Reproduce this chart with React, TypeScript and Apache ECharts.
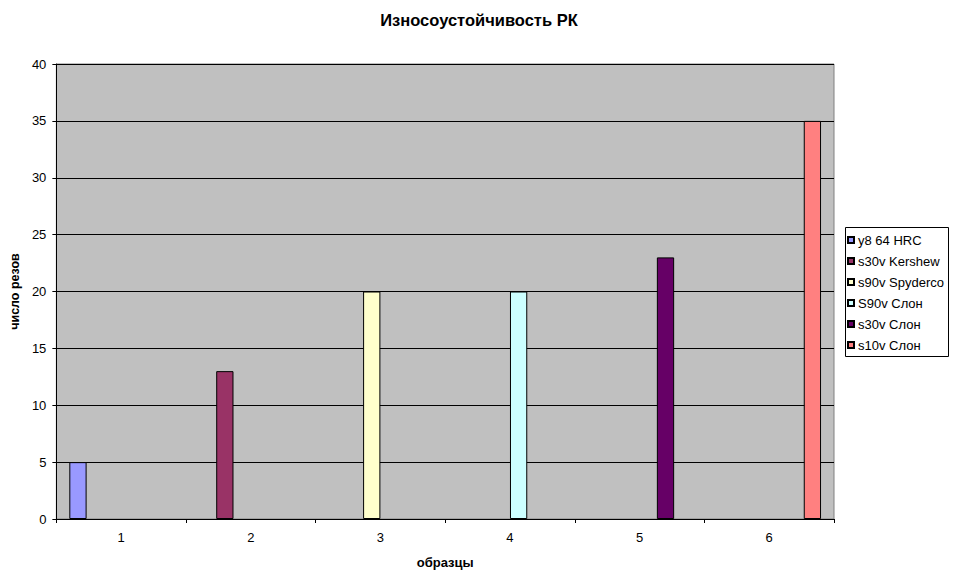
import React, { useEffect, useRef } from "react";
import * as echarts from "echarts";

const categories = ["1", "2", "3", "4", "5", "6"];
const seriesNames = [
  "y8 64 HRC",
  "s30v Kershew",
  "s90v Spyderco",
  "S90v Слон",
  "s30v Слон",
  "s10v Слон",
];
const seriesValues: (number | null)[][] = [
  [5, null, null, null, null, null],
  [null, 13, null, null, null, null],
  [null, null, 20, null, null, null],
  [null, null, null, 20, null, null],
  [null, null, null, null, 23, null],
  [null, null, null, null, null, 35],
];
const seriesColors = ["#9999FF", "#993366", "#FFFFCC", "#CCFFFF", "#660066", "#FF8080"];
const yTicks = { min: 0, max: 40, interval: 5 };

const FONT = "'Liberation Sans', Arial, sans-serif";

export default function App() {
  const ref = useRef<HTMLDivElement>(null);
  useEffect(() => {
    if (!ref.current) return;
    const chart = echarts.init(ref.current, null, { renderer: "svg" });
    chart.setOption({
      animation: false,
      backgroundColor: "#ffffff",
      textStyle: { fontFamily: FONT },
      title: {
        text: "Износоустойчивость РК",
        left: 474,
        textAlign: "center",
        top: 6,
        textStyle: { fontFamily: FONT, fontSize: 16.5, fontWeight: "bold", color: "#000" },
      },
      grid: {
        left: 54,
        top: 64,
        width: 780,
        bottom: 61,
        show: true,
        backgroundColor: "#C0C0C0",
        borderColor: "#808080",
        borderWidth: 1,
      },
      legend: {
        orient: "vertical",
        left: 847,
        top: 233,
        padding: 0,
        itemWidth: 6,
        itemHeight: 6,
        itemGap: 7,
        icon: "rect",
        data: seriesNames,
        textStyle: { fontFamily: FONT, fontSize: 13, color: "#000", lineHeight: 14, padding: [0, 0, 0, -1] },
      },
      graphic: [
        {
          type: "rect",
          shape: { x: 845.5, y: 227.5, width: 103, height: 129 },
          style: { fill: "#fff", stroke: "#000", lineWidth: 1 },
          z: -1,
          silent: true,
        },
      ],
      xAxis: {
        type: "category",
        data: categories,
        name: "образцы",
        nameLocation: "middle",
        nameGap: 37,
        nameTextStyle: { fontFamily: FONT, fontSize: 13, fontWeight: "bold", color: "#000" },
        axisLine: { show: true, lineStyle: { color: "#000", width: 1 } },
        axisTick: { show: true, alignWithLabel: false, length: 4, lineStyle: { color: "#000" } },
        axisLabel: { fontFamily: FONT, fontSize: 13, color: "#000", margin: 12 },
        splitLine: { show: false },
      },
      yAxis: {
        type: "value",
        min: yTicks.min,
        max: yTicks.max,
        interval: yTicks.interval,
        name: "число резов",
        nameLocation: "middle",
        nameGap: 30,
        nameRotate: 90,
        nameTextStyle: { fontFamily: FONT, fontSize: 12.5, fontWeight: "bold", color: "#000" },
        axisLine: { show: true, lineStyle: { color: "#000", width: 1 } },
        axisTick: { show: true, length: 4, lineStyle: { color: "#000" } },
        axisLabel: { fontFamily: FONT, fontSize: 13, color: "#000", margin: 10 },
        splitLine: { show: true, lineStyle: { color: "#000", width: 1 } },
      },
      series: seriesNames.map((name, i) => ({
        name,
        type: "bar",
        data: seriesValues[i],
        barGap: "0%",
        barCategoryGap: "20%",
        itemStyle: { color: seriesColors[i], borderColor: "#000", borderWidth: 1 },
      })),
    });
    return () => chart.dispose();
  }, []);
  return (
    <div
      ref={ref}
      style={{ position: "fixed", left: 0, top: 0, width: 956, height: 580 }}
    />
  );
}
